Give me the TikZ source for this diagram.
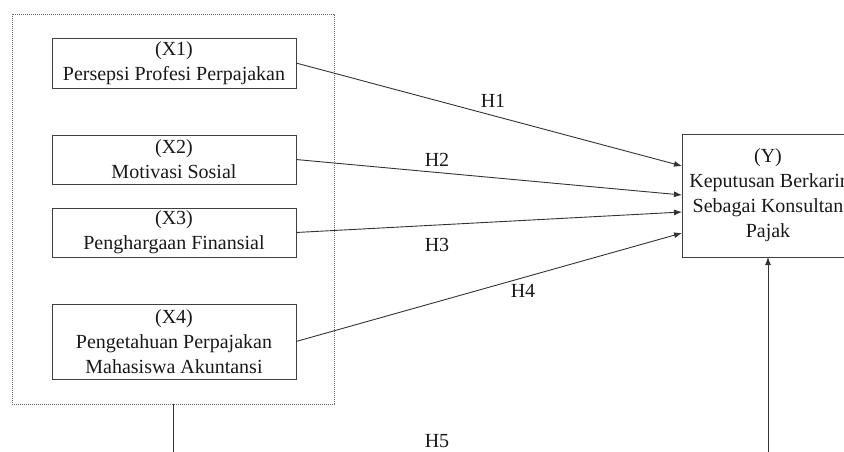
\documentclass[tikz,border=0pt]{standalone}
\usepackage{fontspec}
\setmainfont{Liberation Serif}
\usetikzlibrary{arrows.meta,calc}
\begin{document}
\begin{tikzpicture}[x=1pt,y=-1pt,
  var/.style={draw=black!75,line width=1pt,fill=white,inner sep=0pt,outer sep=0pt,align=center,
    text=black!90,font=\fontsize{20}{25}\selectfont,minimum width=244pt},
  grpbox/.style={draw=black!60,line width=1pt,dash pattern=on 1.2pt off 0.8pt,inner sep=0pt,outer sep=0pt,
    minimum width=322pt,minimum height=390pt},
  conn/.style={draw=black!80,line width=0.9pt,-{Latex[length=8pt,width=6pt]}},
  hlab/.style={text=black!90,font=\fontsize{20}{24}\selectfont,inner sep=0pt}]
\useasboundingbox (0,0) rectangle (844,451);
\node[grpbox] (grp) at (173,209) {};
\node[var,minimum height=50pt] (x1) at (174,63) {(X1)\\Persepsi Profesi Perpajakan};
\node[var,minimum height=49pt] (x2) at (174,159.5) {(X2)\\Motivasi Sosial};
\node[var,minimum height=49pt] (x3) at (174,232.5) {(X3)\\Penghargaan Finansial};
\node[var,minimum height=75pt] (x4) at (174,341.5) {(X4)\\Pengetahuan Perpajakan\\Mahasiswa Akuntansi};
\node[var,minimum width=172pt,minimum height=123pt] (y) at (768,195.5) {(Y)\\Keputusan Berkarir\\Sebagai Konsultan\\Pajak};
\coordinate (y1) at ([yshift=-32pt]y.north west);
\coordinate (y2) at ([yshift=-61pt]y.north west);
\coordinate (y3) at ([yshift=-78pt]y.north west);
\coordinate (y4) at ([yshift=-99pt]y.north west);
\draw[conn] (x1.east) -- (y1);
\draw[conn] (x2.east) -- (y2);
\draw[conn] (x3.east) -- (y3);
\draw[conn] (x4.east) -- (y4);
\coordinate (bend) at (173,462);
\draw[conn] (grp.south) -- (bend) -| (y.south);
\node[hlab] (h1) at (493,101) {H1};
\node[hlab] (h2) at (437,160) {H2};
\node[hlab] (h3) at (437,245) {H3};
\node[hlab] (h4) at (523,291) {H4};
\node[hlab] (h5) at (437,441) {H5};
\end{tikzpicture}
\end{document}
